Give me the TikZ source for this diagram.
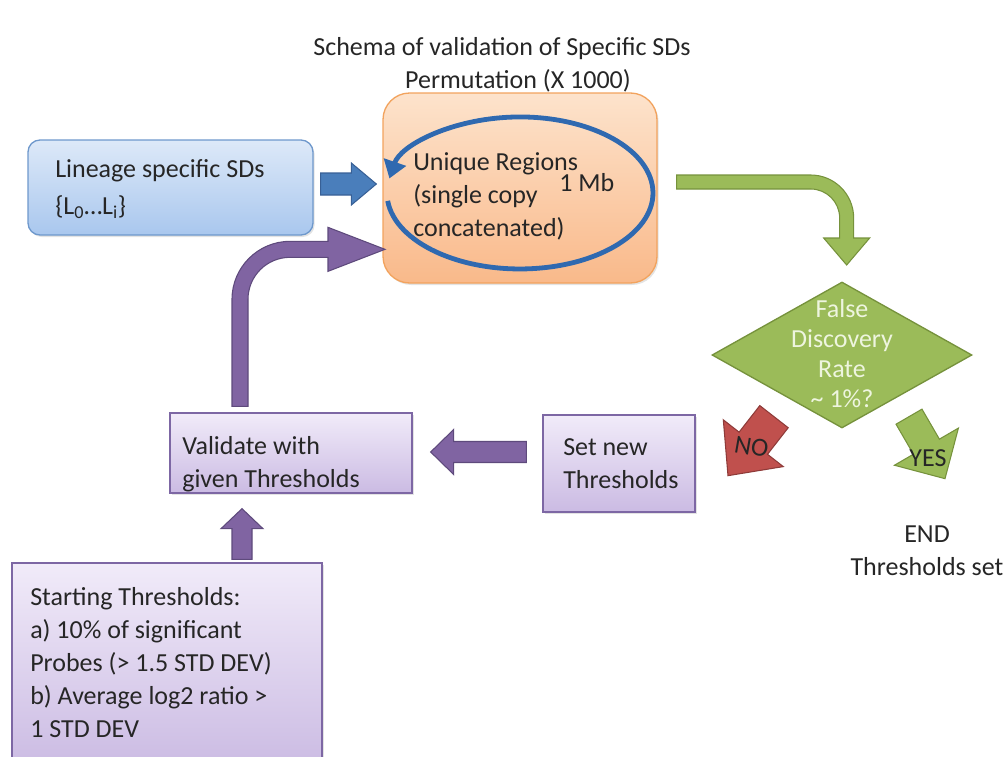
\documentclass[tikz,border=0pt]{standalone}
\usepackage{fontspec}
\setmainfont{Carlito}
\usetikzlibrary{calc,arrows.meta,shapes.geometric,shadows}
\definecolor{textc}{HTML}{262626}
\definecolor{blueTop}{HTML}{DDE9F8}
\definecolor{blueBot}{HTML}{A9C7EE}
\definecolor{blueLine}{HTML}{6E98CC}
\definecolor{blueArrow}{HTML}{4A7EBB}
\definecolor{blueArrowLine}{HTML}{386096}
\definecolor{orangeTop}{HTML}{FDE3CC}
\definecolor{orangeBot}{HTML}{F9B98A}
\definecolor{orangeLine}{HTML}{F2A35E}
\definecolor{ringBlue}{HTML}{2F69B0}
\definecolor{greenFill}{HTML}{9BBB59}
\definecolor{greenLine}{HTML}{76923C}
\definecolor{redFill}{HTML}{C0504D}
\definecolor{redLine}{HTML}{8E3B39}
\definecolor{purpTop}{HTML}{F1EBF9}
\definecolor{purpBot}{HTML}{CBBBE3}
\definecolor{purpLine}{HTML}{7D67A4}
\definecolor{purpArrow}{HTML}{8064A2}
\definecolor{purpArrowLine}{HTML}{5E4A7C}
\definecolor{fdrText}{HTML}{EEF5DF}
\newcommand{\blockarrow}[6]{%
  \draw[#1] let \p1=(#2), \p2=(#3),
    \n1={atan2(\y2-\y1,\x2-\x1)},
    \n2={veclen(\x2-\x1,\y2-\y1)-#6*0.75pt},
    \n3={#4*0.75pt}, \n4={#5*0.75pt} in
    ($(\p1)+(\n1+90:\n3)$) -- ($(\p1)+(\n1:\n2)+(\n1+90:\n3)$) --
    ($(\p1)+(\n1:\n2)+(\n1+90:\n4)$) -- (\p2) --
    ($(\p1)+(\n1:\n2)+(\n1-90:\n4)$) -- ($(\p1)+(\n1:\n2)+(\n1-90:\n3)$) --
    ($(\p1)+(\n1-90:\n3)$) -- cycle;}
\begin{document}
\begin{tikzpicture}[x=0.75pt,y=-0.75pt,
  txt/.style={font=\fontsize{19.5}{24.75}\selectfont, text=textc, inner sep=0pt, align=left, anchor=north west},
  lbl/.style={font=\fontsize{19.5}{24.75}\selectfont, text=textc, inner sep=0pt},
  shadowed/.style={drop shadow={shadow xshift=1.2pt, shadow yshift=-1.5pt, opacity=0.22}},
  bluebox/.style={draw=blueLine, line width=1pt, top color=blueTop, bottom color=blueBot, rounded corners=9pt, shadowed},
  orangebox/.style={draw=orangeLine, line width=1pt, top color=orangeTop, bottom color=orangeBot, rounded corners=20pt, shadowed},
  purpbox/.style={draw=purpLine, line width=1pt, top color=purpTop, bottom color=purpBot, shadowed},
  diamondnode/.style={diamond, draw=greenLine, line width=1pt, fill=greenFill, aspect=1.78, inner sep=0pt,
    minimum width=260*0.75pt, minimum height=146*0.75pt},
  ring/.style={draw=ringBlue, line width=3.6pt, -{Triangle[length=13pt,width=17pt]}},
  bluearrow/.style={fill=blueArrow, draw=blueArrowLine, line width=0.8pt},
  purparrow/.style={fill=purpArrow, draw=purpArrowLine, line width=0.8pt},
  greenarrow/.style={fill=greenFill, draw=greenLine, line width=0.8pt},
  redarrow/.style={fill=redFill, draw=redLine, line width=0.8pt}
]
\useasboundingbox (0,0) rectangle (1008,757);

% boxes
\node[bluebox, minimum width=285*0.75pt, minimum height=95*0.75pt] (lineage) at (170.5,187.5) {};
\node[orangebox, minimum width=274*0.75pt, minimum height=190*0.75pt] (perm) at (520,188) {};
\node[purpbox, minimum width=242*0.75pt, minimum height=80*0.75pt] (validate) at (291,453) {};
\node[purpbox, minimum width=152*0.75pt, minimum height=97*0.75pt] (setnew) at (619,463.5) {};
\node[purpbox, minimum width=310*0.75pt, minimum height=205*0.75pt] (start) at (167,665.5) {};
\node[diamondnode] (fdr) at (842,355) {};

% ring inside permutation box
\coordinate (ringstart) at ($(perm.center)+(-132.3,12.9)$);
\draw[ring] (ringstart) arc[start angle=174, end angle=-169, x radius=133, y radius=76];

% texts
\node[lbl, anchor=base] (title) at (502,55) {Schema of validation of Specific SDs};
\node[lbl, anchor=base] (permlabel) at (518,88) {Permutation (X 1000)};
\node[txt] (lineagetext) at (55,154) {\strut Lineage specific SDs\\[3pt]\{L\textsubscript{0}…L\textsubscript{i}\}};
\node[txt] (permtext) at (413,147) {\strut Unique Regions\\(single copy\\concatenated)};
\node[txt] (mb) at (559,168) {\strut 1 Mb};
\node[txt] (validatetext) at (182,431) {\strut Validate with\\given Thresholds};
\node[txt] (setnewtext) at (563,432) {\strut Set new\\Thresholds};
\node[txt] (starttext) at (30,582) {\strut Starting Thresholds:\\a) 10\% of significant\\Probes (> 1.5 STD DEV)\\b) Average log2 ratio >\\1 STD DEV};
\node[lbl, anchor=north, align=center, font=\fontsize{19.5}{22.5}\selectfont, text=fdrText] (fdrtext) at (842,296) {\strut False\\Discovery\\Rate\\\textasciitilde{} 1\%?};
\node[lbl, anchor=north, align=center] (end) at (927,519) {\strut END\\Thresholds set};

% straight block arrows
\blockarrow{bluearrow}{$(lineage.east)+(7,-3.5)$}{$(perm.west)+(-6,-4)$}{11}{21}{25}
\blockarrow{purparrow}{$(setnew.west)+(-16,-11.5)$}{$(validate.east)+(18,-1)$}{10.5}{22.5}{23}
\blockarrow{purparrow}{$(start.north)+(75,-3)$}{$(validate.south)+(-49,15)$}{10}{21}{20}
\blockarrow{redarrow}{$(fdr.south)+(-68,-12)$}{$(fdr.south)+(-114,47)$}{18}{38}{41}
\blockarrow{greenarrow}{$(fdr.south)+(67,-12)$}{$(fdr.south)+(103,50)$}{15}{37}{37}

% curved purple arrow: validate -> perm
\begin{scope}[shift={(validate.north)}]
\draw[purparrow] (-59,-6) -- (-59,-113) .. controls (-59,-145) and (-33,-171) .. (-1,-171)
  -- (37,-171) -- (37,-185) -- (94,-163) -- (37,-141) -- (37,-155) -- (-1,-155)
  .. controls (-24.2,-155) and (-43,-136.2) .. (-43,-113) -- (-43,-6) -- cycle;
\end{scope}

% curved green arrow: perm -> fdr
\begin{scope}[shift={(perm.east)}]
\draw[greenarrow] (19,-13) -- (153,-13) .. controls (176.75,-13) and (196,6.25) .. (196,30)
  -- (196,50) -- (212,50) -- (189,77) -- (166,50) -- (182,50) -- (182,30)
  .. controls (182,14) and (169,1) .. (153,1) -- (19,1) -- cycle;
\end{scope}

\node[lbl, anchor=base, rotate=-10] (no) at (750,455) {NO};
\node[lbl, anchor=base] (yes) at (928,466) {YES};
\end{tikzpicture}
\end{document}
